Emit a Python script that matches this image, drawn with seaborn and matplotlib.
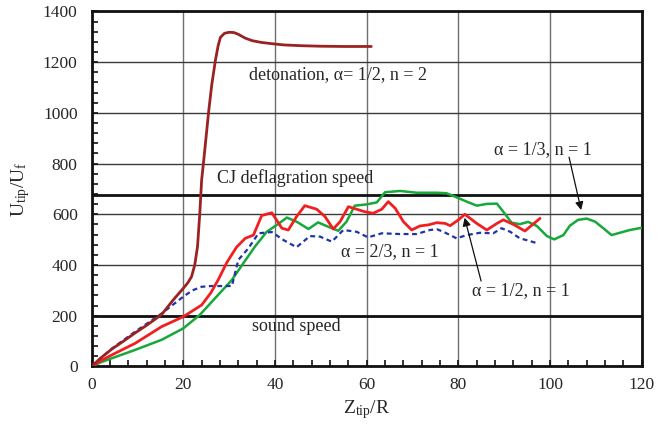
import matplotlib
matplotlib.use("Agg")
import matplotlib.pyplot as plt
import seaborn as sns
import pandas as pd
from matplotlib.ticker import MultipleLocator

# ---- data ----
det_x = [0, 2, 4.4, 7, 9.5, 12, 15.3, 17.8, 20, 21, 21.8, 22.5, 23.1, 23.6, 24.0, 24.5, 25.0, 25.5,
         26.2, 27.0, 27.6, 28.1, 29, 30, 31, 32, 33.5, 35, 37, 39.3, 42, 45.8, 50, 55, 61]
det_y = [0, 33, 68, 100, 132, 162, 205, 262, 308, 330, 354, 400, 472, 604, 735, 820, 910, 1000,
         1110, 1207, 1265, 1298, 1314, 1318, 1317, 1310, 1295, 1285, 1278, 1273, 1268, 1265, 1263, 1262, 1262]

red_x = [0, 2, 4.4, 9.5, 15.3, 20, 24, 26, 27.6, 29.5, 31.6, 33.5, 35.3, 37.1, 39.3, 41.5, 42.9, 44.7,
         46.5, 49.1, 50.9, 52.7, 54.2, 56, 57.8, 59.6, 61.4, 63.3, 64.7, 66.2, 68, 69.8, 71.6, 73.4,
         75.3, 77.1, 78.2, 80, 81.4, 84, 86.2, 88.4, 89.8, 92, 94.5, 97.8]
red_y = [0, 22, 45, 91, 157, 196, 242, 290, 341, 410, 470, 505, 518, 595, 606, 545, 538, 591,
         634, 620, 591, 542, 571, 630, 620, 610, 604, 620, 650, 624, 571, 538, 554, 558,
         567, 564, 555, 578, 600, 564, 538, 564, 578, 560, 534, 584]

green_x = [0, 2, 4.4, 9.5, 15.3, 20, 23.6, 27.6, 30.6, 33.1, 35.6, 38.2, 40.4, 42.6, 44.7, 47.3, 49.4,
           51.6, 53.8, 55.6, 57.4, 60, 62.2, 64, 67.3, 70.9, 75.3, 77.4, 79.6, 81.8, 84, 86.2, 88.4,
           89.8, 91.6, 93.4, 95.2, 97.1, 99.3, 100.9, 102.9, 104.3, 106.1, 108, 109.8, 111.6, 113.4,
           115.2, 117.4, 120]
green_y = [0, 16, 32, 65, 105, 150, 203, 282, 341, 407, 472, 531, 558, 587, 571, 542, 568,
           551, 535, 571, 634, 639, 647, 687, 692, 685, 685, 683, 667, 650, 634, 641, 642,
           610, 567, 561, 570, 554, 514, 501, 518, 555, 578, 583, 571, 545, 518,
           527, 538, 547]

blue_x = [0, 2, 4.4, 9.5, 15.3, 20, 22, 24, 26, 28.4, 30.6, 32, 34.2, 36.4, 39.3, 41.8, 44.7, 47.6,
          49.8, 52.4, 54.9, 57.8, 60.3, 63.3, 67.3, 70.9, 73.8, 75.3, 76.7, 78.2, 79.6, 81.8, 84.7,
          87.6, 89.4, 91.3, 93.4, 95.5, 97.1]
blue_y = [0, 32, 70, 137, 209, 275, 300, 314, 317, 317, 317, 420, 466, 525, 530, 499, 470, 514,
          512, 492, 538, 531, 509, 525, 522, 522, 538, 541, 531, 518, 505, 518, 527,
          525, 545, 531, 505, 495, 486]

sound_speed = 200
cj_speed = 676

# ---- style ----
sns.set_style("ticks")
plt.rcParams['font.family'] = ['Liberation Serif', 'DejaVu Serif']
plt.rcParams['mathtext.fontset'] = 'custom'
plt.rcParams['mathtext.rm'] = 'Liberation Serif'
plt.rcParams['mathtext.it'] = 'Liberation Serif:italic'

fig = plt.figure(figsize=(6.57, 4.37), dpi=100)
ax = fig.add_axes([0.1394, 0.1616, 0.8375, 0.8121])

ax.set_xlim(0, 120)
ax.set_ylim(0, 1400)
ax.xaxis.set_major_locator(MultipleLocator(20))
ax.xaxis.set_minor_locator(MultipleLocator(4))
ax.yaxis.set_major_locator(MultipleLocator(200))
ax.yaxis.set_minor_locator(MultipleLocator(40))

ax.yaxis.grid(True, which='major', color='#3a3a3a', lw=1.0)
ax.xaxis.grid(True, which='major', color='#707070', lw=1.0)
ax.set_axisbelow(True)

ax.axhline(sound_speed, color='#111111', lw=2.0, zorder=2)
ax.axhline(cj_speed, color='#111111', lw=2.0, zorder=2)

sns.lineplot(x=green_x, y=green_y, ax=ax, color='#16a83a', lw=1.8, zorder=3)
sns.lineplot(x=blue_x, y=blue_y, ax=ax, color='#2233a8', lw=1.6, zorder=4, dashes=False)
ax.lines[-1].set_linestyle((0, (2.2, 1.6)))
sns.lineplot(x=red_x, y=red_y, ax=ax, color='#f02020', lw=2.0, zorder=5)
sns.lineplot(x=det_x, y=det_y, ax=ax, color='#9b2222', lw=2.0, zorder=6)

for s in ax.spines.values():
    s.set_linewidth(2.0)
    s.set_color('#111111')
    s.set_visible(True)

ax.tick_params(axis='both', which='both', direction='in', length=4, width=1.2, color='#111111')
ax.tick_params(axis='y', which='both', pad=10, labelsize=12.5)
ax.tick_params(axis='x', which='both', pad=8, labelsize=12.5)

ax.set_xlabel(r'Z$_{\mathrm{tip}}$/R', fontsize=14, labelpad=3)
ax.set_ylabel(r'U$_{\mathrm{tip}}$/U$_{\mathrm{f}}$', fontsize=14, labelpad=8)

fs = 13
ax.text(53.8, 1150, 'detonation, α= 1/2, n = 2', fontsize=fs, ha='center', va='center', zorder=7)
ax.text(44.4, 742, 'CJ deflagration speed', fontsize=fs, ha='center', va='center', zorder=7)
ax.text(44.6, 157, 'sound speed', fontsize=fs, ha='center', va='center', zorder=7)
ax.text(65.0, 452, 'α = 2/3, n = 1', fontsize=fs, ha='center', va='center', zorder=7)

ax.annotate('', xy=(106.9, 606), xytext=(104, 836),
            arrowprops=dict(arrowstyle='-|>', color='#111111', lw=0.9, mutation_scale=12), zorder=7)
ax.text(98.5, 856, 'α = 1/3, n = 1', fontsize=fs, ha='center', va='center', zorder=7)
ax.annotate('', xy=(81.2, 597), xytext=(85.1, 326),
            arrowprops=dict(arrowstyle='-|>', color='#111111', lw=0.9, mutation_scale=12), zorder=7)
ax.text(93.6, 299, 'α = 1/2, n = 1', fontsize=fs, ha='center', va='center', zorder=7)

fig.savefig('out.png', dpi=100)
